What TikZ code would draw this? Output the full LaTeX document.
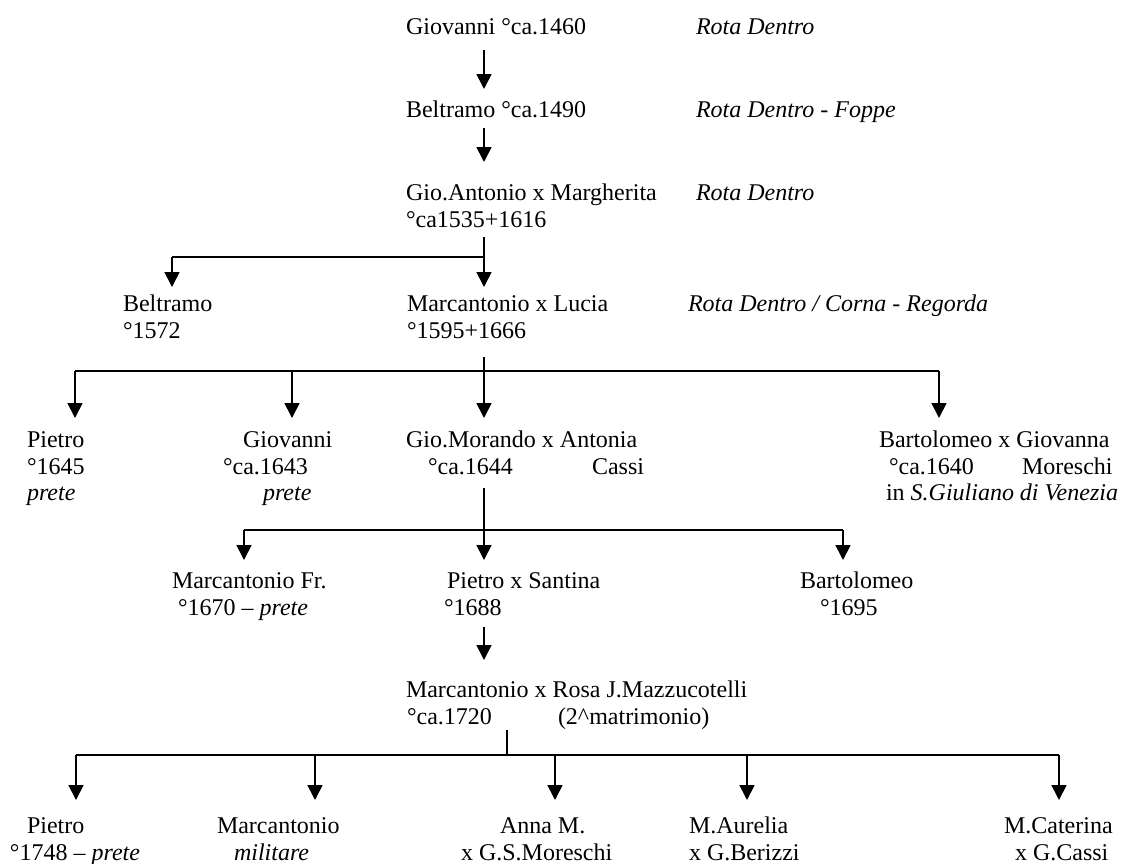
\documentclass[tikz,border=0pt]{standalone}
\usepackage{fontspec}
\setmainfont{Liberation Serif}
\usetikzlibrary{arrows.meta}
\begin{document}
\begin{tikzpicture}[x=0.5pt,y=-0.5pt,
  lbl/.style={anchor=base west,inner sep=0pt,outer sep=0pt,font=\fontsize{12}{14}\selectfont},
  loc/.style={lbl,font=\fontsize{12}{14}\selectfont\itshape},
  link/.style={line width=0.85pt},
  desc/.style={link,-{Triangle[length=7.5pt,width=7.5pt]}}]
\useasboundingbox (0,0) rectangle (1125,863);

% ---- generation 1-3: single line of descent
\node[lbl] (giov) at (406,34) {Giovanni °ca.1460};
\node[loc] (loc1) at (696,34) {Rota Dentro};
\node[lbl] (belt) at (406,117) {Beltramo °ca.1490};
\node[loc] (loc2) at (696,117) {Rota Dentro - Foppe};
\node[lbl] (gioant) at (406,200) {Gio.Antonio x Margherita};
\node[lbl] (gioantd) at (406,227) {°ca1535+1616};
\node[loc] (loc3) at (696,200) {Rota Dentro};

\coordinate (a1s) at (484,50);  \coordinate (a1e) at (484,89);
\coordinate (a2s) at (484,128); \coordinate (a2e) at (484,162);
\draw[desc] (a1s) -- (a1e);
\draw[desc] (a2s) -- (a2e);

% ---- children of Gio.Antonio
\node[lbl] (belt2) at (123,311) {Beltramo};
\node[lbl] (belt2d) at (123,338) {°1572};
\node[lbl] (marc) at (407,311) {Marcantonio x Lucia};
\node[lbl] (marcd) at (407,338) {°1595+1666};
\node[loc] (loc4) at (688,311) {Rota Dentro / Corna - Regorda};

\coordinate (b1top) at (484,237);
\coordinate (b1m) at (484,257);
\coordinate (b1l) at (172,257);
\coordinate (t1a) at (172,287);
\coordinate (t1b) at (484,287);
\draw[link] (b1top) -- (b1m);
\draw[link] (b1l) -- (b1m);
\draw[desc] (b1l) -- (t1a);
\draw[desc] (b1m) -- (t1b);

% ---- children of Marcantonio
\node[lbl] (pie) at (27,447) {Pietro};
\node[lbl] (pied) at (27,474) {°1645};
\node[loc] (piep) at (27,500) {prete};
\node[lbl] (gio2) at (243,447) {Giovanni};
\node[lbl] (gio2d) at (223,474) {°ca.1643};
\node[loc] (gio2p) at (263,500) {prete};
\node[lbl] (mor) at (406,447) {Gio.Morando x Antonia};
\node[lbl] (mord) at (428,474) {°ca.1644};
\node[lbl] (morw) at (592,474) {Cassi};
\node[lbl] (bar) at (879,447) {Bartolomeo x Giovanna};
\node[lbl] (bard) at (889,474) {°ca.1640};
\node[lbl] (barw) at (1022,474) {Moreschi};
\node[lbl] (barp) at (886,500) {in \textit{S.Giuliano di Venezia}};

\coordinate (b2top) at (484,357);
\coordinate (b2m) at (484,371);
\coordinate (b2l) at (75,371);
\coordinate (b2a) at (292,371);
\coordinate (b2r) at (939,371);
\coordinate (t2l) at (75,418);
\coordinate (t2a) at (292,418);
\coordinate (t2m) at (484,418);
\coordinate (t2r) at (939,418);
\draw[link] (b2top) -- (b2m);
\draw[link] (b2l) -- (b2r);
\draw[desc] (b2l) -- (t2l);
\draw[desc] (b2a) -- (t2a);
\draw[desc] (b2m) -- (t2m);
\draw[desc] (b2r) -- (t2r);

% ---- children of Gio.Morando
\node[lbl] (mfr) at (172,588) {Marcantonio Fr.};
\node[lbl] (mfrd) at (178,615) {°1670 – \textit{prete}};
\node[lbl] (pis) at (447,588) {Pietro x Santina};
\node[lbl] (pisd) at (444,615) {°1688};
\node[lbl] (bar2) at (800,588) {Bartolomeo};
\node[lbl] (bar2d) at (820,615) {°1695};

\coordinate (b3top) at (484,488);
\coordinate (b3m) at (484,530);
\coordinate (b3l) at (244,530);
\coordinate (b3r) at (843,530);
\coordinate (t3l) at (244,560);
\coordinate (t3m) at (484,560);
\coordinate (t3r) at (843,560);
\draw[link] (b3top) -- (b3m);
\draw[link] (b3l) -- (b3r);
\draw[desc] (b3l) -- (t3l);
\draw[desc] (b3m) -- (t3m);
\draw[desc] (b3r) -- (t3r);

\coordinate (a3s) at (484,627); \coordinate (a3e) at (484,660);
\draw[desc] (a3s) -- (a3e);

% ---- Marcantonio x Rosa and children
\node[lbl] (mros) at (406,697) {Marcantonio x Rosa J.Mazzucotelli};
\node[lbl] (mrosd) at (407,724) {°ca.1720};
\node[lbl] (mrosn) at (558,724) {(2\textasciicircum matrimonio)};

\node[lbl] (pie3) at (27,833) {Pietro};
\node[lbl] (pie3d) at (10,860) {°1748 – \textit{prete}};
\node[lbl] (mar3) at (217,833) {Marcantonio};
\node[loc] (mar3d) at (234,860) {militare};
\node[lbl] (ann) at (500,833) {Anna M.};
\node[lbl] (annd) at (461,860) {x G.S.Moreschi};
\node[lbl] (aur) at (689,833) {M.Aurelia};
\node[lbl] (aurd) at (689,860) {x G.Berizzi};
\node[lbl] (cat) at (1004,833) {M.Caterina};
\node[lbl] (catd) at (1015,860) {x G.Cassi};

\coordinate (b4top) at (507,730);
\coordinate (b4m) at (507,755);
\coordinate (b4l) at (76,755);
\coordinate (b4a) at (315,755);
\coordinate (b4b) at (555,755);
\coordinate (b4c) at (747,755);
\coordinate (b4r) at (1059,755);
\coordinate (t4l) at (76,800);
\coordinate (t4a) at (315,800);
\coordinate (t4b) at (555,800);
\coordinate (t4c) at (747,800);
\coordinate (t4r) at (1059,800);
\draw[link] (b4top) -- (b4m);
\draw[link] (b4l) -- (b4r);
\draw[desc] (b4l) -- (t4l);
\draw[desc] (b4a) -- (t4a);
\draw[desc] (b4b) -- (t4b);
\draw[desc] (b4c) -- (t4c);
\draw[desc] (b4r) -- (t4r);
\end{tikzpicture}
\end{document}
